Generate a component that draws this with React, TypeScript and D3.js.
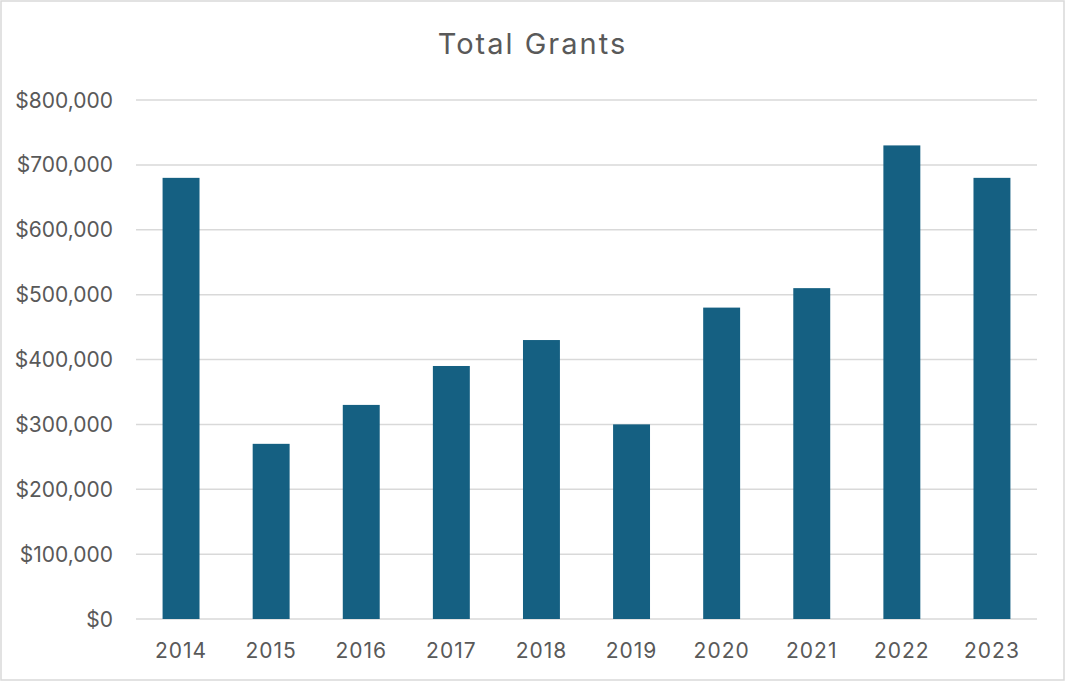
import { useEffect, useRef } from 'react';
import * as d3 from 'd3';

const years = ['2014', '2015', '2016', '2017', '2018', '2019', '2020', '2021', '2022', '2023'];
const grants = [680000, 270000, 330000, 390000, 430000, 300000, 480000, 510000, 730000, 680000];
const yTicks = [0, 100000, 200000, 300000, 400000, 500000, 600000, 700000, 800000];

const width = 1065;
const height = 681;
const margin = { top: 100, right: 28, bottom: 62, left: 136 };

const App = () => {
  const svgRef = useRef<SVGSVGElement | null>(null);

  useEffect(() => {
    if (!svgRef.current) return;
    const svg = d3.select(svgRef.current);
    svg.selectAll('*').remove();

    const font = 'Inter, "Open Sans", sans-serif';

    // chart border
    svg.append('rect')
      .attr('x', 1).attr('y', 1)
      .attr('width', width - 2).attr('height', height - 2)
      .attr('fill', '#fff')
      .attr('stroke', '#d9d9d9')
      .attr('stroke-width', 1.5);

    const x = d3.scaleBand()
      .domain(years)
      .range([margin.left, width - margin.right])
      .paddingInner(0.59)
      .paddingOuter(0.295);

    const y = d3.scaleLinear()
      .domain([0, 800000])
      .range([height - margin.bottom, margin.top]);

    // gridlines
    svg.append('g')
      .selectAll('line')
      .data(yTicks)
      .enter()
      .append('line')
      .attr('x1', margin.left)
      .attr('x2', width - margin.right)
      .attr('y1', d => y(d))
      .attr('y2', d => y(d))
      .attr('stroke', '#d9d9d9')
      .attr('stroke-width', 1.5);

    // bars
    svg.append('g')
      .selectAll('rect')
      .data(grants)
      .enter()
      .append('rect')
      .attr('x', (_, i) => x(years[i])!)
      .attr('y', d => y(d))
      .attr('width', x.bandwidth())
      .attr('height', d => y(0) - y(d))
      .attr('fill', '#156082');

    // y labels
    const fmt = d3.format('$,.0f');
    svg.append('g')
      .selectAll('text')
      .data(yTicks)
      .enter()
      .append('text')
      .attr('x', 113)
      .attr('y', d => y(d))
      .attr('dy', '0.36em')
      .attr('text-anchor', 'end')
      .attr('font-family', font)
      .attr('font-size', 21)
      .attr('fill', '#595959')
      .text(d => fmt(d));

    // x labels
    svg.append('g')
      .selectAll('text')
      .data(years)
      .enter()
      .append('text')
      .attr('x', d => x(d)! + x.bandwidth() / 2)
      .attr('y', 658)
      .attr('text-anchor', 'middle')
      .attr('font-family', font)
      .attr('font-size', 21)
      .attr('letter-spacing', 1)
      .attr('fill', '#595959')
      .text(d => d);

    // title
    svg.append('text')
      .attr('x', width / 2)
      .attr('y', 54)
      .attr('text-anchor', 'middle')
      .attr('font-family', font)
      .attr('font-size', 29)
      .attr('letter-spacing', 2)
      .attr('fill', '#595959')
      .text('Total Grants');
  }, []);

  return (
    <div style={{ position: 'absolute', left: 0, top: 0 }}>
      <svg ref={svgRef} width={width} height={height} style={{ display: 'block' }} />
    </div>
  );
};

export default App;
